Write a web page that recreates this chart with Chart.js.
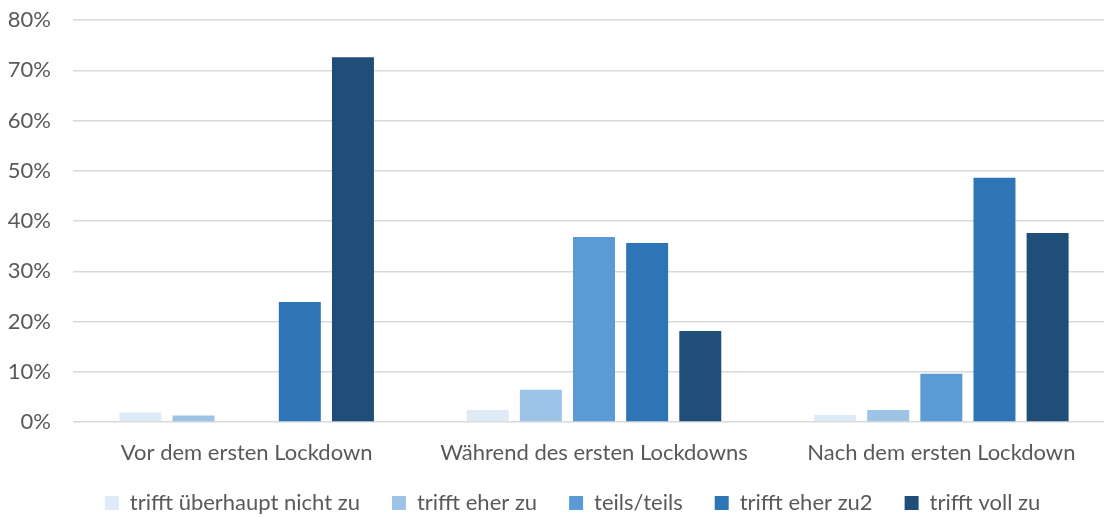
<!DOCTYPE html>
<html><head><meta charset="utf-8">
<script src="https://cdn.jsdelivr.net/npm/chart.js@4/dist/chart.umd.min.js"></script>
<style>html,body{margin:0;padding:0;background:#fff;overflow:hidden}#wrap{width:1104px;height:518px;overflow:hidden}</style>
</head><body><div id="wrap"><canvas id="c" width="1115" height="518"></canvas></div>
<script>
const categories = ["Vor dem ersten Lockdown", "Während des ersten Lockdowns", "Nach dem ersten Lockdown"];
const seriesNames = ["trifft überhaupt nicht zu", "trifft eher zu", "teils/teils", "trifft eher zu2", "trifft voll zu"];
const s1 = [1.9, 2.4, 1.4];
const s2 = [1.3, 6.4, 2.4];
const s3 = [0, 36.8, 9.6];
const s4 = [23.9, 35.6, 48.6];
const s5 = [72.6, 18.1, 37.6];
const colors = ["#DEEBF7", "#9DC3E6", "#5B9BD5", "#2E75B6", "#1F4E79"];
const yTicks = [0, 10, 20, 30, 40, 50, 60, 70, 80];

const font = "Lato, 'Open Sans', sans-serif";
const seriesData = [s1, s2, s3, s4, s5];

const legendShift = {
  id: 'legendShift',
  afterLayout(chart) {
    const lg = chart.legend;
    if (!lg) return;
    lg.top = 460; lg.bottom = 524;
    lg.left += 15; lg.right += 15;
  }
};

new Chart(document.getElementById('c'), {
  type: 'bar',
  data: {
    labels: categories,
    datasets: seriesData.map((d, i) => ({
      label: seriesNames[i], data: d, backgroundColor: colors[i],
      barPercentage: 0.79, categoryPercentage: 0.765
    }))
  },
  plugins: [legendShift],
  options: {
    responsive: false, animation: false,
    layout: { padding: { top: 20, right: 0, left: 0, bottom: 0 } },
    plugins: {
      tooltip: { enabled: false },
      legend: {
        position: 'bottom',
        maxHeight: 52,
        labels: { boxWidth: 14, boxHeight: 14, padding: 32, color: '#595959', font: { family: font, size: 22 } }
      }
    },
    scales: {
      x: {
        afterFit: s => { s.height = 44; },
        grid: { display: false, drawTicks: false }, border: { display: false },
        ticks: { color: '#595959', font: { family: font, size: 22 }, padding: 18 }
      },
      y: {
        min: 0, max: 80,
        afterFit: s => { s.width = 73; s.paddingTop = 0; s.paddingBottom = 0; },
        afterBuildTicks: s => { s.ticks = yTicks.map(v => ({ value: v })); },
        grid: { color: '#d9d9d9', lineWidth: 1.5, drawTicks: false },
        border: { display: false },
        ticks: { color: '#595959', font: { family: font, size: 22 }, padding: 22, callback: v => v + '%' }
      }
    }
  }
});
</script></body></html>
